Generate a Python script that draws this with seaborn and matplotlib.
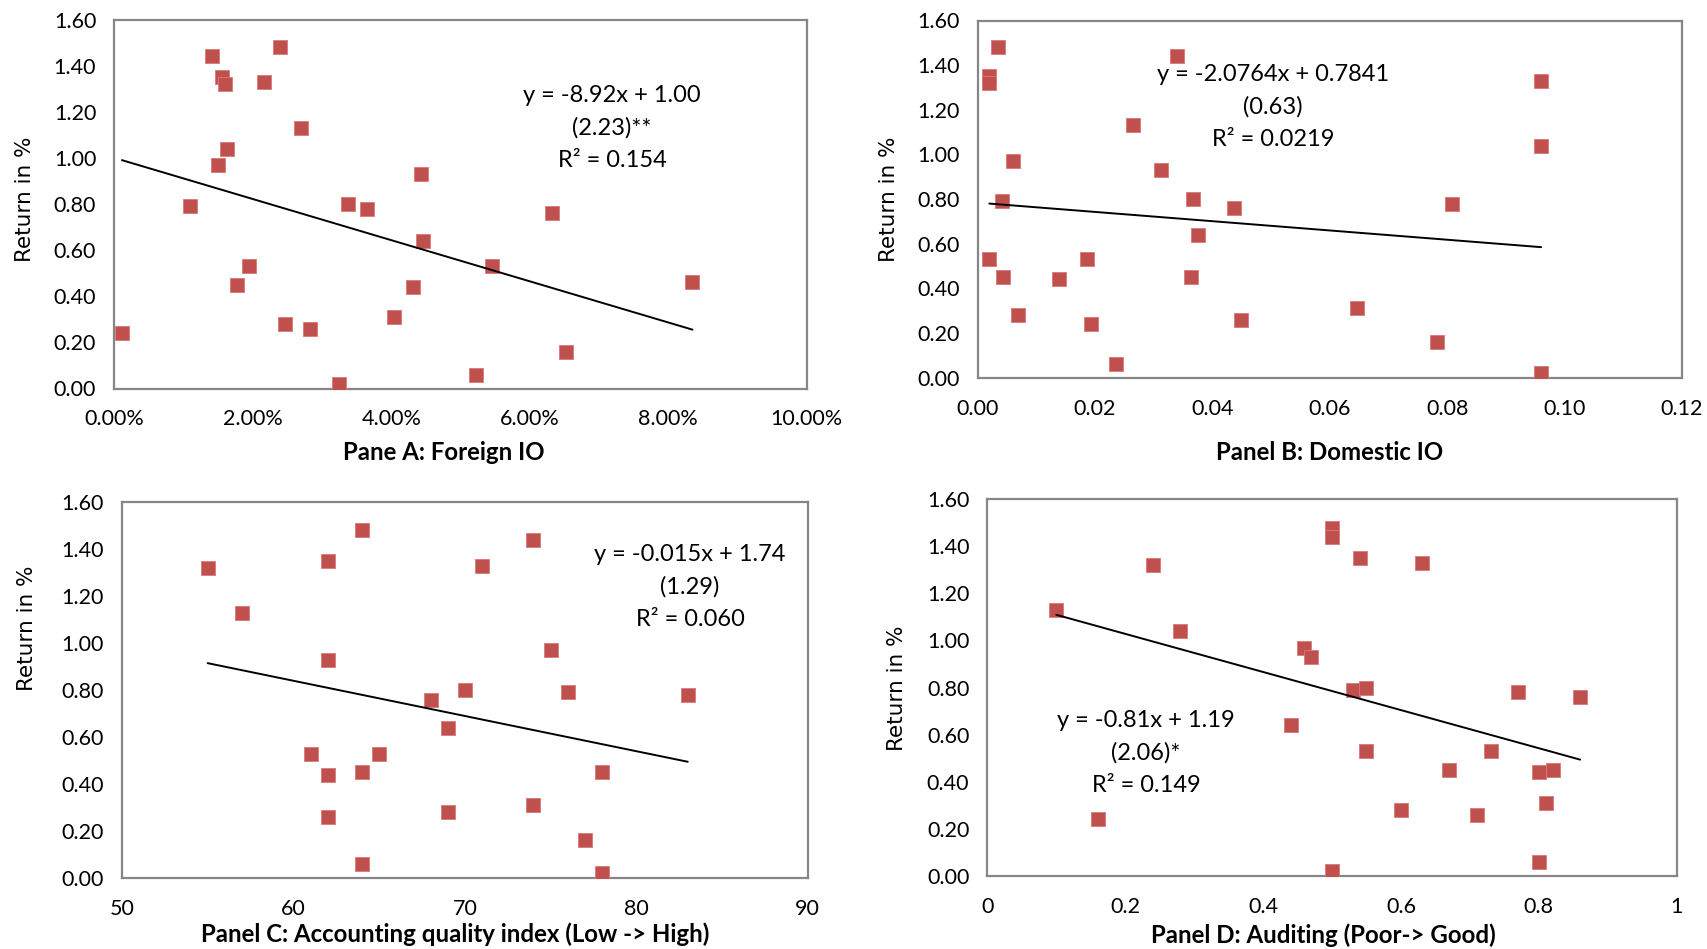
import numpy as np
import pandas as pd
import matplotlib
matplotlib.use("Agg")
import matplotlib.pyplot as plt
import seaborn as sns
from matplotlib.ticker import FuncFormatter, MultipleLocator

# ---- Panel A: foreign institutional ownership (share) vs monthly return (%)
foreign_io = [0.0011, 0.0110, 0.0141, 0.0155, 0.0160, 0.0150, 0.0163, 0.0177, 0.0195,
              0.0216, 0.0240, 0.0247, 0.0270, 0.0283, 0.0324, 0.0337, 0.0365, 0.0404,
              0.0431, 0.0443, 0.0446, 0.0523, 0.0545, 0.0632, 0.0653, 0.0835]
return_a = [0.24, 0.79, 1.44, 1.35, 1.32, 0.97, 1.04, 0.45, 0.53, 1.33, 1.48, 0.28, 1.13,
            0.26, 0.02, 0.80, 0.78, 0.31, 0.44, 0.93, 0.64, 0.06, 0.53, 0.76, 0.16, 0.46]

# ---- Panel B: domestic institutional ownership
domestic_io = [0.0020, 0.0020, 0.0034, 0.0041, 0.0020, 0.0043, 0.0061, 0.0069, 0.0139,
               0.0187, 0.0193, 0.0235, 0.0265, 0.0313, 0.0339, 0.0363, 0.0367, 0.0375,
               0.0436, 0.0448, 0.0646, 0.0782, 0.0809, 0.0960, 0.0960, 0.0960]
return_b = [1.35, 1.32, 1.48, 0.79, 0.53, 0.45, 0.97, 0.28, 0.44, 0.53, 0.24, 0.06, 1.13,
            0.93, 1.44, 0.45, 0.80, 0.64, 0.76, 0.26, 0.31, 0.16, 0.78, 1.33, 1.04, 0.02]

# ---- Panel C: accounting quality index
accounting = [55, 57, 62, 64, 74, 71, 62, 75, 68, 70, 76, 83, 69, 61, 65, 62, 64, 78,
              62, 69, 74, 77, 64, 78]
return_c = [1.32, 1.13, 1.35, 1.48, 1.44, 1.33, 0.93, 0.97, 0.76, 0.80, 0.79, 0.78, 0.64,
            0.53, 0.53, 0.44, 0.45, 0.45, 0.26, 0.28, 0.31, 0.16, 0.06, 0.02]

# ---- Panel D: auditing quality
auditing = [0.10, 0.16, 0.24, 0.28, 0.44, 0.46, 0.47, 0.50, 0.50, 0.50, 0.54, 0.53, 0.55,
            0.55, 0.60, 0.63, 0.67, 0.71, 0.73, 0.77, 0.80, 0.80, 0.82, 0.81, 0.86]
return_d = [1.13, 0.24, 1.32, 1.04, 0.64, 0.97, 0.93, 1.48, 1.44, 0.02, 1.35, 0.79, 0.80,
            0.53, 0.28, 1.33, 0.45, 0.26, 0.53, 0.78, 0.44, 0.06, 0.45, 0.31, 0.76]

# Fitted trend lines (slope, intercept) and their printed statistics
slopes = [-8.92, -2.0764, -0.015, -0.81]
intercepts = [1.00, 0.7841, 1.74, 1.19]
eq_texts = ["y = -8.92x + 1.00\n(2.23)**\nR² = 0.154",
            "y = -2.0764x + 0.7841\n(0.63)\nR² = 0.0219",
            "y = -0.015x + 1.74\n(1.29)\nR² = 0.060",
            "y = -0.81x + 1.19\n(2.06)*\nR² = 0.149"]
panel_titles = ["Pane A: Foreign IO", "Panel B: Domestic IO",
                "Panel C: Accounting quality index (Low -> High)",
                "Panel D: Auditing (Poor-> Good)"]

sns.set_theme(style="white")
plt.rcParams['font.family'] = ['Lato', 'DejaVu Sans']

W, H = 1707, 949
fig = plt.figure(figsize=(W / 100, H / 100), dpi=100)
fig.patch.set_facecolor("white")

# axes boxes in pixels: left, right, top, bottom
boxes = [(114.3, 806.7, 19.5, 388.5),
         (977.6, 1682.0, 20.5, 377.7),
         (121.9, 807.8, 502.3, 878.0),
         (987.4, 1676.6, 499.3, 875.7)]
# centre of the equation block (middle line) in pixels
eq_pos = [(612, 128), (1273, 107), (690, 587), (1146, 753)]
# x-label centre in pixels
xlab_pos = [(444, 453), (1330, 453), (455, 934), (1323, 935)]
# y-label centre in pixels
ylab_pos = [(25, 199), (889, 199), (27, 628), (897, 688)]

xs = [foreign_io, domestic_io, accounting, auditing]
ys = [return_a, return_b, return_c, return_d]
xlims = [(0, 0.10), (0, 0.12), (50, 90), (0, 1)]
xsteps = [0.02, 0.02, 10, 0.2]
xfmts = [lambda v, p: f"{v * 100:.2f}%",
         lambda v, p: f"{v:.2f}",
         lambda v, p: f"{v:.0f}",
         lambda v, p: ("%g" % round(v, 2))]

marker_color = "#C0504D"
spine_color = "#868686"

for i in range(4):
    l, r, t, b = boxes[i]
    ax = fig.add_axes([l / W, 1 - b / H, (r - l) / W, (b - t) / H])
    df = pd.DataFrame({"x": xs[i], "ret": ys[i]})
    sns.scatterplot(data=df, x="x", y="ret", ax=ax, marker="s", s=105,
                    color=marker_color, edgecolor="#D87A78", linewidth=0.6,
                    zorder=3)
    x0, x1 = min(xs[i]), max(xs[i])
    line = pd.DataFrame({"x": [x0, x1]})
    line["ret"] = slopes[i] * line["x"] + intercepts[i]
    sns.lineplot(data=line, x="x", y="ret", ax=ax, color="black", lw=1.4,
                 zorder=4)

    ax.set_xlim(*xlims[i])
    ax.set_ylim(0, 1.6)
    ax.xaxis.set_major_locator(MultipleLocator(xsteps[i]))
    ax.yaxis.set_major_locator(MultipleLocator(0.2))
    ax.xaxis.set_major_formatter(FuncFormatter(xfmts[i]))
    ax.yaxis.set_major_formatter(FuncFormatter(lambda v, p: f"{v:.2f}"))
    ax.tick_params(axis="both", direction="in", length=7, width=1.5,
                   color=spine_color, labelsize=15.5, labelcolor="black")
    ax.tick_params(axis="x", pad=15)
    ax.tick_params(axis="y", pad=13)
    for sp in ax.spines.values():
        sp.set_visible(True)
        sp.set_color(spine_color)
        sp.set_linewidth(1.6)
    ax.set_xlabel("")
    ax.set_ylabel("")
    ax.set_facecolor("white")
    ax.grid(False)

    ex, ey = eq_pos[i]
    fig.text(ex / W, 1 - ey / H, eq_texts[i], ha="center", va="center",
             fontsize=17, linespacing=1.68, color="black")
    lx, ly = xlab_pos[i]
    fig.text(lx / W, 1 - ly / H, panel_titles[i], ha="center", va="center",
             fontsize=17.3, fontweight="bold", color="black")
    yx, yy = ylab_pos[i]
    fig.text(yx / W, 1 - yy / H, "Return in %", ha="center", va="center",
             rotation=90, fontsize=15.5, family="DejaVu Sans", color="black")

fig.savefig("out.png", dpi=100, facecolor="white")
